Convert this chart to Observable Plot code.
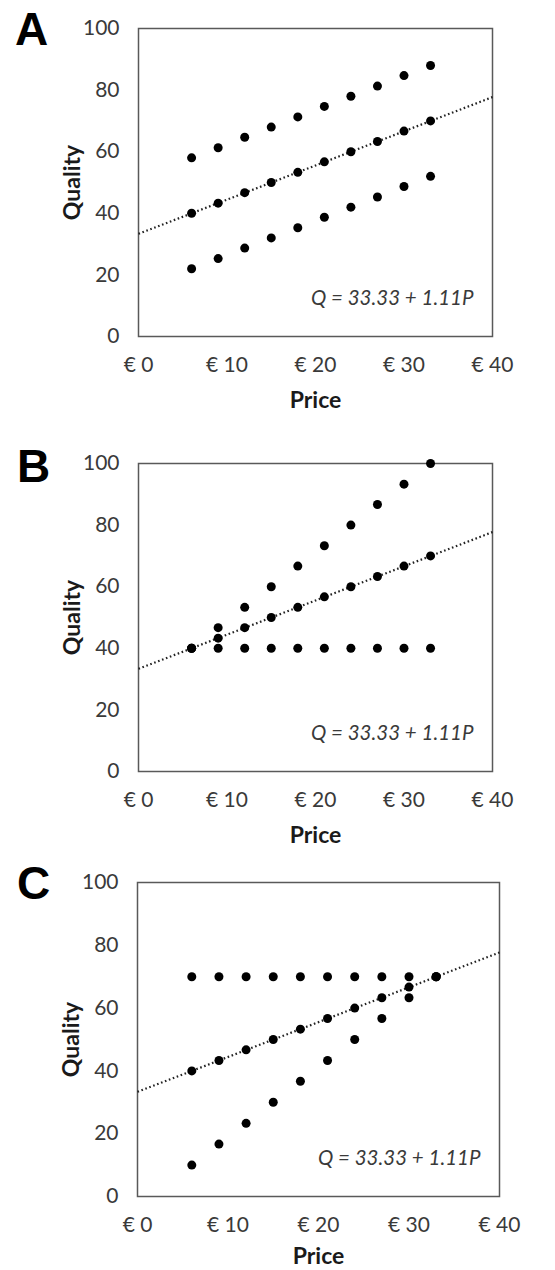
<!DOCTYPE html>
<html>
<head>
<meta charset="utf-8">
<script src="https://cdn.jsdelivr.net/npm/d3@7"></script>
<script src="https://cdn.jsdelivr.net/npm/@observablehq/plot@0.6"></script>
<style>
  html, body { margin: 0; padding: 0; background: #fff; }
  #chart { width: 555px; }
  #chart svg { display: block; }
</style>
</head>
<body>
<div id="chart"></div>
<script>
// Data
const prices = [6, 9, 12, 15, 18, 21, 24, 27, 30, 33];

const aTop    = [58, 61.3, 64.7, 68, 71.3, 74.7, 78, 81.3, 84.7, 88];
const aMid    = [40, 43.3, 46.7, 50, 53.3, 56.7, 60, 63.3, 66.7, 70];
const aBottom = [22, 25.3, 28.7, 32, 35.3, 38.7, 42, 45.3, 48.7, 52];

const bTop    = [40, 46.7, 53.3, 60, 66.7, 73.3, 80, 86.7, 93.3, 100];
const bMid    = [40, 43.3, 46.7, 50, 53.3, 56.7, 60, 63.3, 66.7, 70];
const bBottom = [40, 40, 40, 40, 40, 40, 40, 40, 40, 40];

const cTop    = [70, 70, 70, 70, 70, 70, 70, 70, 70, 70];
const cMid    = [40, 43.3, 46.7, 50, 53.3, 56.7, 60, 63.3, 66.7, 70];
const cBottom = [10, 16.7, 23.3, 30, 36.7, 43.3, 50, 56.7, 63.3, 70];

const fitPrice = [0, 40];
const fitQuality = [33.33, 77.73];

const xTicks = [0, 10, 20, 30, 40];
const yTicks = [0, 20, 40, 60, 80, 100];

const equation = "Q = 33.33 + 1.11P";

function panel(letter, series, m) {
  const pts = series.flatMap(s => prices.map((p, i) => ({price: p, q: s[i]})));
  const fit = fitPrice.map((p, i) => ({price: p, q: fitQuality[i]}));
  return Plot.plot({
    width: 555,
    height: m.height,
    marginTop: m.top,
    marginBottom: m.bottom,
    marginLeft: m.left,
    marginRight: m.right,
    style: {fontFamily: "Lato, sans-serif", fontSize: "21px", color: "#3a3a3a", background: "#fff"},
    x: {domain: [0, 40], ticks: xTicks, tickFormat: d => "€ " + d, label: null, tickSize: 0, tickPadding: 21},
    y: {domain: [0, 100], ticks: yTicks, label: null, tickSize: 0, tickPadding: 19},
    marks: [
      Plot.frame({stroke: "#595959", strokeWidth: 1.5}),
      Plot.line(fit, {x: "price", y: "q", stroke: "#222", strokeWidth: 2.2, strokeDasharray: "1.6,2.6", strokeLinecap: "butt"}),
      Plot.dot(pts, {x: "price", y: "q", r: 4.5, fill: "#000", stroke: "none"}),
      Plot.text([equation], {text: d => d, frameAnchor: "bottom-right", dx: -19, dy: -38, textAnchor: "end", lineAnchor: "middle", fontStyle: "italic", fontSize: 20.5, fill: "#3a3a3a"}),
      Plot.text(["Price"], {text: d => d, frameAnchor: "bottom", dy: m.pdy, textAnchor: "middle", lineAnchor: "middle", fontWeight: "bold", fontSize: 23, fill: "#1a1a1a"}),
      Plot.text(["Quality"], {text: d => d, frameAnchor: "left", dx: -66, rotate: -90, textAnchor: "middle", lineAnchor: "middle", fontWeight: "bold", fontSize: 23, fill: "#1a1a1a"}),
      Plot.text([letter], {text: d => d, frameAnchor: "top-left", dx: m.ldx, dy: m.ldy, lineAnchor: "middle", textAnchor: "middle", fontFamily: "Liberation Sans, Arial, sans-serif", fontWeight: "bold", fontSize: 46, fill: "#000"})
    ]
  });
}

const chart = document.getElementById("chart");
chart.append(panel("A", [aTop, aMid, aBottom], {height: 420, top: 28, bottom: 84, left: 138, right: 63, ldx: -107, ldy: 2, pdy: 64}));
chart.append(panel("B", [bTop, bMid, bBottom], {height: 430, top: 43, bottom: 79, left: 138, right: 63, ldx: -105, ldy: 4, pdy: 64}));
chart.append(panel("C", [cTop, cMid, cBottom], {height: 420, top: 32, bottom: 74, left: 137, right: 56, ldx: -104, ldy: 2, pdy: 60}));
</script>
</body>
</html>
